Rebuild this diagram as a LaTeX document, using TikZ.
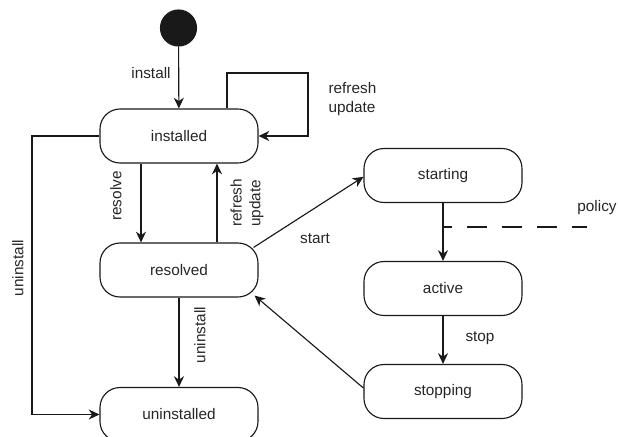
\documentclass[tikz,border=0pt]{standalone}
\usepackage{fontspec}
\setmainfont{Liberation Sans}
\usetikzlibrary{arrows.meta}
\begin{document}
\begin{tikzpicture}[x=0.75pt,y=-0.75pt,
  font=\fontsize{11.5}{14}\selectfont,
  line width=0.85pt,
  state/.style={draw=black!90, rounded corners=15pt, minimum width=118.5pt,
    minimum height=40.5pt, inner sep=0pt, fill=white, text=black!85},
  arr/.style={draw=black!90, -{Stealth[length=8pt,width=7.5pt,inset=2.5pt]}},
  lbl/.style={inner sep=0pt, text=black!85},
  rot/.style={lbl, rotate=90, align=left}]
\useasboundingbox (0,0) rectangle (618,436);

% initial pseudo-state
\node (init) [circle, fill=black!90, draw=black!90, minimum size=27pt, inner sep=0pt] at (178.5,28) {};

% states
\node (installed)   [state] at (179,136)   {installed};
\node (resolved)    [state] at (179,270)   {resolved};
\node (uninstalled) [state] at (179,414.5) {uninstalled};
\node (starting)    [state] at (443,175.5) {starting};
\node (active)      [state] at (443,288.5) {active};
\node (stopping)    [state] at (443,391.5) {stopping};

% bend points of the orthogonal connectors
\coordinate (loop) at (308,73);
\coordinate (ul)   at (32,275);
\coordinate (pol)  at (587,227);

% transitions
\draw[arr] (init) -- (installed);
\node[lbl] (linstall) at (151,73) {install};

\draw[arr] ([xshift=36pt]installed.north) |- (loop) |- (installed.east);
\node[lbl, align=left, anchor=west] (lrefresh) at (328,99) {refresh\\update};

\draw[arr] ([xshift=-28.5pt]installed.south) -- ([xshift=-28.5pt]resolved.north);
\node[rot] (lresolve) at (116,196) {resolve};

\draw[arr] ([xshift=28.5pt]resolved.north) -- ([xshift=28.5pt]installed.south);
\node[rot] (lrefresh2) at (247,203) {refresh\\update};

\draw[arr] (installed.west) -| (ul) |- (uninstalled.west);
\node[rot] (luninst1) at (18,268) {uninstall};

\draw[arr] (resolved.south) -- (uninstalled.north);
\node[rot] (luninst2) at (200,335) {uninstall};

\draw[arr] ([xshift=-3.75pt,yshift=-3.75pt]resolved.north east) -- ([yshift=-1pt]starting.west);
\node[lbl] (lstart) at (315,239) {start};

\draw[arr] (starting) -- (active);
\coordinate (polstart) at (starting.south |- pol);
\draw[draw=black!90, dash pattern=on 15pt off 11.25pt, dash phase=8.25pt] (polstart) -- (pol);
\node[lbl] (lpolicy) at (597,208) {policy};

\draw[arr] (active) -- (stopping);
\node[lbl] (lstop) at (480,338) {stop};

\draw[arr] ([yshift=2.6pt]stopping.west) -- ([xshift=-3pt,yshift=1.5pt]resolved.south east);
\end{tikzpicture}
\end{document}
